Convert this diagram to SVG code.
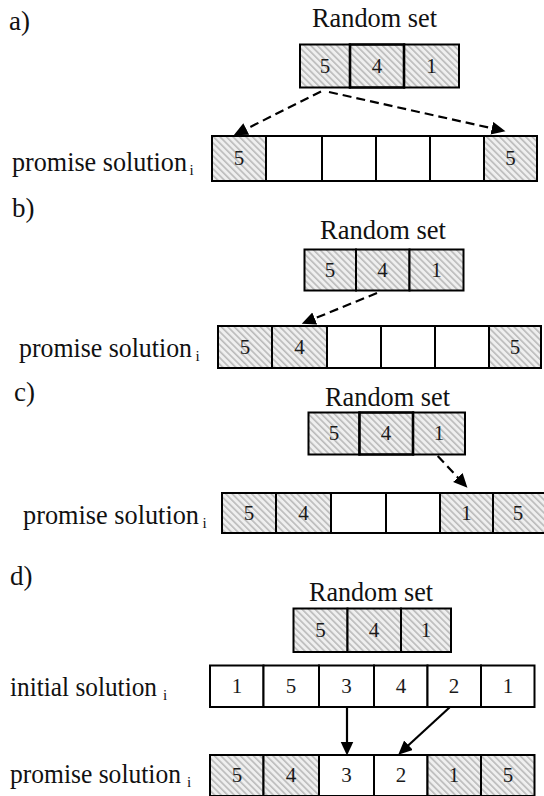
<svg xmlns="http://www.w3.org/2000/svg" width="544" height="796" viewBox="0 0 544 796">
  <style>
    .lbl { font-family: "Liberation Serif", "Times New Roman", serif; font-size: 26.5px; fill: #111; }
    .pl { font-family: "Liberation Serif", "Times New Roman", serif; font-size: 27px; fill: #111; }
    .sub { font-family: "Liberation Serif", "Times New Roman", serif; font-size: 15px; fill: #111; }
    .dig { font-family: "Liberation Serif", "Times New Roman", serif; font-size: 21px; fill: #1a1a1a; text-anchor: middle; }
    .h { fill: url(#hatch); stroke: #000; stroke-width: 2; }
    .w { fill: #fff; stroke: #000; stroke-width: 2; }
    .hb { fill: url(#hatch); stroke: #000; stroke-width: 2.6; }
    .dash { fill: none; stroke: #000; stroke-width: 2.2; stroke-dasharray: 9 5; }
    .solid { fill: none; stroke: #000; stroke-width: 2.2; }
  </style>
  <defs>
    <pattern id="hatch" patternUnits="userSpaceOnUse" width="4.6" height="4.6" patternTransform="rotate(45)">
      <rect width="4.6" height="4.6" fill="#efefef"/>
      <line x1="0" y1="1" x2="4.6" y2="1" stroke="#a2a2a2" stroke-width="1.1"/>
    </pattern>
    <marker id="head" markerUnits="userSpaceOnUse" markerWidth="15" markerHeight="14" refX="9" refY="6.5" orient="auto">
      <path d="M0,0 L14,6.5 L0,13 z" fill="#000"/>
    </marker>
  </defs>
  <rect width="544" height="796" fill="#fff"/>

  <!-- panel a -->
  <g id="label-a"><text class="pl" x="9" y="30">a)</text></g>
  <g id="random-a">
    <text class="lbl" x="312" y="27" textLength="125" lengthAdjust="spacingAndGlyphs">Random set</text>
    <rect class="h" x="300" y="44.5" width="50" height="43"/>
    <rect class="h" x="404" y="44.5" width="55" height="43"/>
    <rect class="hb" x="350" y="44.5" width="54" height="43"/>
    <text class="dig" x="325" y="73">5</text>
    <text class="dig" x="377" y="73">4</text>
    <text class="dig" x="431.5" y="73">1</text>
  </g>
  <g id="promise-a">
    <text class="lbl" x="12" y="171" textLength="175" lengthAdjust="spacingAndGlyphs">promise solution</text>
    <text class="sub" x="189.5" y="175">i</text>
    <rect class="h" x="212" y="136" width="54" height="45"/>
    <rect class="w" x="266" y="136" width="56" height="45"/>
    <rect class="w" x="322" y="136" width="54" height="45"/>
    <rect class="w" x="376" y="136" width="54" height="45"/>
    <rect class="w" x="430" y="136" width="54" height="45"/>
    <rect class="h" x="484" y="136" width="53" height="45"/>
    <text class="dig" x="239" y="165">5</text>
    <text class="dig" x="510.5" y="165">5</text>
  </g>

  <!-- panel b -->
  <g id="label-b"><text class="pl" x="12" y="217">b)</text></g>
  <g id="random-b">
    <text class="lbl" x="320" y="239" textLength="126" lengthAdjust="spacingAndGlyphs">Random set</text>
    <rect class="h" x="304.5" y="249.5" width="51.5" height="41"/>
    <rect class="h" x="356" y="249.5" width="53.5" height="41"/>
    <rect class="h" x="409.5" y="249.5" width="54" height="41"/>
    <text class="dig" x="330" y="277">5</text>
    <text class="dig" x="382.5" y="277">4</text>
    <text class="dig" x="436.5" y="277">1</text>
  </g>
  <g id="promise-b">
    <text class="lbl" x="19" y="357" textLength="173" lengthAdjust="spacingAndGlyphs">promise solution</text>
    <text class="sub" x="195.5" y="361">i</text>
    <rect class="h" x="218" y="326" width="54" height="42"/>
    <rect class="h" x="272" y="326" width="55" height="42"/>
    <rect class="w" x="327" y="326" width="54" height="42"/>
    <rect class="w" x="381" y="326" width="54" height="42"/>
    <rect class="w" x="435" y="326" width="54" height="42"/>
    <rect class="h" x="489" y="326" width="52" height="42"/>
    <text class="dig" x="245" y="354">5</text>
    <text class="dig" x="299.5" y="354">4</text>
    <text class="dig" x="515" y="354">5</text>
  </g>

  <!-- panel c -->
  <g id="label-c"><text class="pl" x="14" y="401">c)</text></g>
  <g id="random-c">
    <text class="lbl" x="325" y="406" textLength="125" lengthAdjust="spacingAndGlyphs">Random set</text>
    <rect class="h" x="308.5" y="412.5" width="51" height="42"/>
    <rect class="h" x="413" y="412.5" width="52" height="42"/>
    <rect class="hb" x="359.5" y="412.5" width="53.5" height="42"/>
    <text class="dig" x="334" y="440">5</text>
    <text class="dig" x="386" y="440">4</text>
    <text class="dig" x="439" y="440">1</text>
  </g>
  <g id="promise-c">
    <text class="lbl" x="23" y="524" textLength="176" lengthAdjust="spacingAndGlyphs">promise solution</text>
    <text class="sub" x="202.5" y="528">i</text>
    <rect class="h" x="222" y="493" width="54" height="40"/>
    <rect class="h" x="276" y="493" width="55" height="40"/>
    <rect class="w" x="331" y="493" width="55" height="40"/>
    <rect class="w" x="386" y="493" width="54" height="40"/>
    <rect class="h" x="440" y="493" width="53" height="40"/>
    <rect class="h" x="493" y="493" width="54" height="40"/>
    <text class="dig" x="249" y="520">5</text>
    <text class="dig" x="303.5" y="520">4</text>
    <text class="dig" x="466.5" y="520">1</text>
    <text class="dig" x="518" y="520">5</text>
  </g>

  <!-- panel d -->
  <g id="label-d"><text class="pl" x="10" y="585">d)</text></g>
  <g id="random-d">
    <text class="lbl" x="309" y="601" textLength="124" lengthAdjust="spacingAndGlyphs">Random set</text>
    <rect class="h" x="293.5" y="608.5" width="54" height="43.5"/>
    <rect class="h" x="347.5" y="608.5" width="53.5" height="43.5"/>
    <rect class="h" x="401" y="608.5" width="50" height="43.5"/>
    <text class="dig" x="320.5" y="637">5</text>
    <text class="dig" x="374" y="637">4</text>
    <text class="dig" x="426" y="637">1</text>
  </g>
  <g id="initial-d">
    <text class="lbl" x="10" y="696" textLength="147" lengthAdjust="spacingAndGlyphs">initial solution</text>
    <text class="sub" x="163" y="700">i</text>
    <rect class="w" x="210" y="665.5" width="53.5" height="41.5"/>
    <rect class="w" x="263.5" y="665.5" width="55.5" height="41.5"/>
    <rect class="w" x="319" y="665.5" width="55" height="41.5"/>
    <rect class="w" x="374" y="665.5" width="53.5" height="41.5"/>
    <rect class="w" x="427.5" y="665.5" width="53.5" height="41.5"/>
    <rect class="w" x="481" y="665.5" width="53.5" height="41.5"/>
    <text class="dig" x="237" y="693">1</text>
    <text class="dig" x="291" y="693">5</text>
    <text class="dig" x="346.5" y="693">3</text>
    <text class="dig" x="401" y="693">4</text>
    <text class="dig" x="454" y="693">2</text>
    <text class="dig" x="508" y="693">1</text>
  </g>
  <g id="promise-d">
    <text class="lbl" x="10" y="783" textLength="171" lengthAdjust="spacingAndGlyphs">promise solution</text>
    <text class="sub" x="187" y="787">i</text>
    <rect class="h" x="210" y="755" width="53.5" height="41"/>
    <rect class="h" x="263.5" y="755" width="55.5" height="41"/>
    <rect class="w" x="319" y="755" width="55" height="41"/>
    <rect class="w" x="374" y="755" width="53.5" height="41"/>
    <rect class="h" x="427.5" y="755" width="53.5" height="41"/>
    <rect class="h" x="481" y="755" width="53.5" height="41"/>
    <text class="dig" x="237" y="782">5</text>
    <text class="dig" x="291" y="782">4</text>
    <text class="dig" x="346.5" y="782">3</text>
    <text class="dig" x="401" y="782">2</text>
    <text class="dig" x="454" y="782">1</text>
    <text class="dig" x="508" y="782">5</text>
  </g>

  <!-- connectors -->
  <g id="connectors">
    <path class="dash" d="M321,91.5 L238.2,133" marker-end="url(#head)"/>
    <path class="dash" d="M329,92 L500.6,130.2" marker-end="url(#head)"/>
    <path class="dash" d="M377,293 L306.4,321.8" marker-end="url(#head)"/>
    <path class="dash" d="M437.7,456 L464,484" marker-end="url(#head)"/>
    <path class="solid" d="M347,707 L347,750.5" marker-end="url(#head)"/>
    <path class="solid" d="M449.5,707.5 L401.9,751.3" marker-end="url(#head)"/>
  </g>
</svg>
